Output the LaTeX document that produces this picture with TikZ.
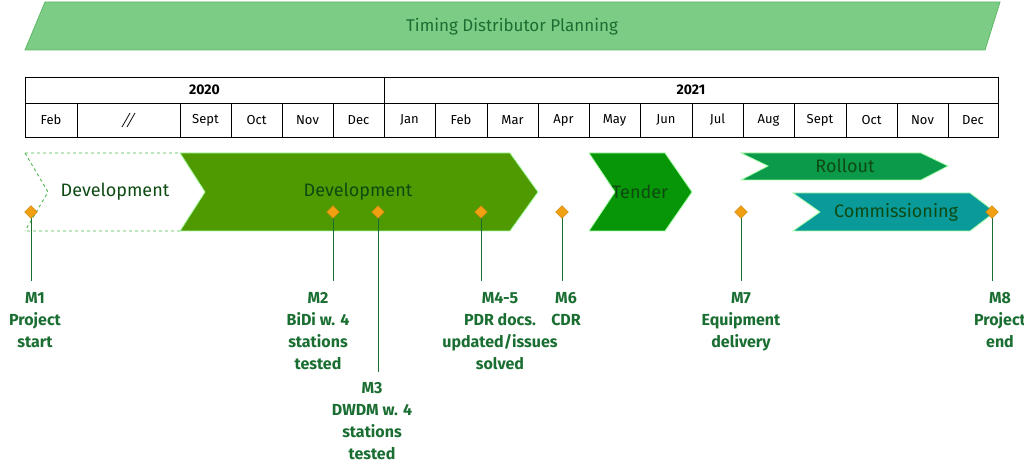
\documentclass[tikz,border=0pt]{standalone}
\usepackage{fontspec}
\setmainfont{Fira Sans}
\begin{document}
\definecolor{banner}{HTML}{7DCC85}
\definecolor{bannerd}{HTML}{5DB865}
\definecolor{dk}{HTML}{1A6E32}
\definecolor{txt}{HTML}{0E4A12}
\definecolor{dev}{HTML}{4E9A00}
\definecolor{tend}{HTML}{079607}
\definecolor{roll}{HTML}{0A9A4A}
\definecolor{comm}{HTML}{0A9A9A}
\definecolor{dia}{HTML}{F0A010}
\begin{tikzpicture}[x=1pt,y=-1pt,
  cell/.style={draw=black,line width=0.8pt},
  mtxt/.style={font=\fontsize{13}{15}\selectfont},
  chev/.style={draw=green!35!white,line width=0.8pt},
  ctxt/.style={font=\fontsize{18}{20}\selectfont,text=txt},
  ms/.style={draw=dia!80!black,fill=dia,line width=0.4pt,rectangle,rotate=45,minimum width=9pt,minimum height=9pt,inner sep=0pt},
  mline/.style={draw=dk,line width=1pt},
  mlab/.style={font=\fontsize{16}{22}\selectfont\bfseries,text=dk,align=center,anchor=north,inner sep=0pt}]
\useasboundingbox (0,0) rectangle (1024,470);
% banner
\draw[fill=banner,draw=bannerd,line width=0.8pt] (45,2)--(1000,2)--(985,50)--(25,50)--cycle;
\node[font=\fontsize{17}{20}\selectfont,text=dk] (title) at (512,27) {Timing Distributor Planning};
% table
\draw[cell] (25,77) rectangle node[font=\fontsize{14}{16}\selectfont\bfseries] (y20) {2020} (384,103);
\draw[cell] (384,77) rectangle node[font=\fontsize{14}{16}\selectfont\bfseries] (y21) {2021} (998,103);
\foreach \a/\b/\t [count=\i] in {25/77/Feb,77/180/{},180/231/Sept,231/282/Oct,282/333/Nov,333/384/Dec,384/435/Jan,435/487/Feb,487/538/Mar,538/589/Apr,589/640/May,640/692/Jun,692/743/Jul,743/794/Aug,794/846/Sept,846/897/Oct,897/948/Nov,948/998/Dec}
  \draw[cell] (\a,103) rectangle node[mtxt] (m\i) {\t} (\b,137);
\draw[line width=0.8pt] (122,127)--(130,113) (127,127)--(135,113);
% chevrons
\draw[dashed,draw=green!60!black!70!white,line width=0.9pt] (25,153)--(180,153) (180,231)--(25,231) (25,153)--(48,192)--(25,231);
\node[ctxt] (d1) at (115,192) {Development};
\draw[chev,fill=dev] (180,153)--(510,153)--(538,192)--(510,231)--(180,231)--(205,192)--cycle;
\node[ctxt] (d2) at (358,192) {Development};
\draw[chev,fill=tend] (589,153)--(665,153)--(692,192)--(665,231)--(589,231)--(615,192)--cycle;
\node[ctxt] (tn) at (640,192) {Tender};
\draw[chev,fill=roll] (741,153)--(921,153)--(948,166)--(921,180)--(741,180)--(768,166)--cycle;
\node[ctxt] (ro) at (845,166) {Rollout};
\draw[chev,fill=comm] (793,193)--(970,193)--(995,212)--(970,231)--(793,231)--(820,212)--cycle;
\node[ctxt] (co) at (896,212) {Commissioning};
% milestones
\foreach \n/\x/\y in {1/31/281,2/333/281,3/378/372,4/481/281,5/562/281,6/741/281,7/992/281}{
  \coordinate (c\n) at (\x,212);
  \coordinate (e\n) at (\x,\y);
  \draw[mline] (c\n) -- (e\n);
  \node[ms] (k\n) at (c\n) {};
}
\node[mlab] (l1) at (35,292) {M1\\Project\\start};
\node[mlab] (l2) at (318,292) {M2\\BiDi w. 4\\stations\\tested};
\node[mlab] (l3) at (372,382) {M3\\DWDM w. 4\\stations\\tested};
\node[mlab] (l4) at (500,292) {M4-5\\PDR docs.\\updated/issues\\solved};
\node[mlab] (l5) at (566,292) {M6\\CDR};
\node[mlab] (l6) at (741,292) {M7\\Equipment\\delivery};
\node[mlab] (l7) at (1000,292) {M8\\Project\\end};
\end{tikzpicture}
\end{document}
